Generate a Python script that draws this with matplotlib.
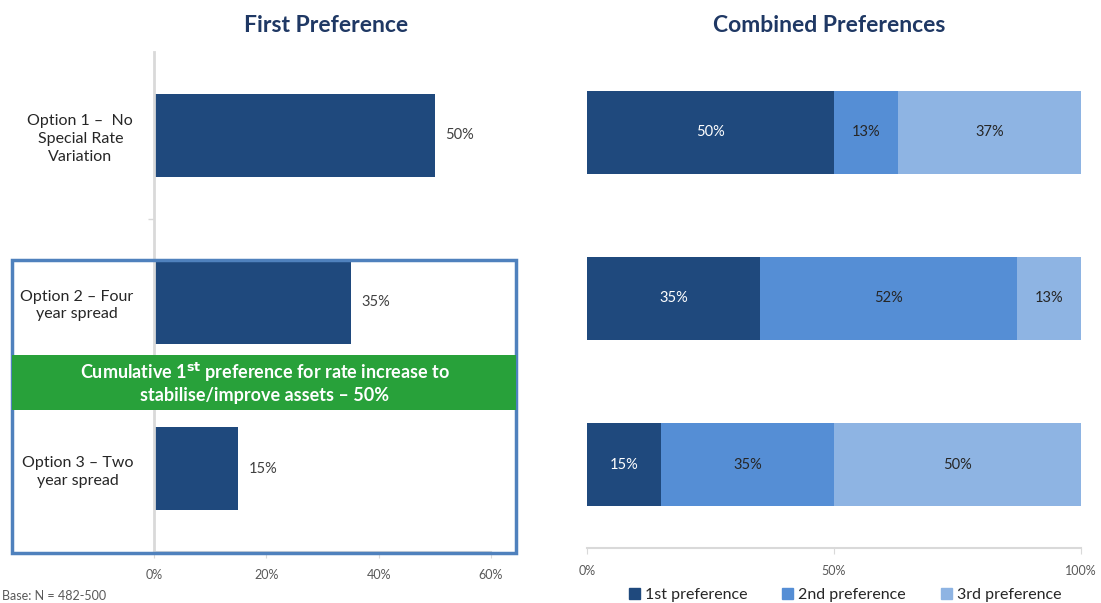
import matplotlib
matplotlib.use('Agg')

import matplotlib.pyplot as plt
from matplotlib.patches import Rectangle, Patch

plt.rcParams['font.family'] = ['Lato', 'DejaVu Sans']

# survey results, in percent
options = ["Option 1 \u2013  No\nSpecial Rate\nVariation",
           "Option 2 \u2013 Four\nyear spread",
           "Option 3 \u2013 Two\nyear spread"]
first_pref = [50, 35, 15]
second_pref = [13, 52, 35]
third_pref = [37, 13, 50]
pref_names = ["1st preference", "2nd preference", "3rd preference"]
left_ticks = [0, 20, 40, 60]
right_ticks = [0, 50, 100]

navy = '#1f497d'
mid_blue = '#558ed5'
light_blue = '#8eb4e3'
axis_grey = '#d9d9d9'
text_grey = '#595959'
title_col = '#1f3864'

fig = plt.figure(figsize=(11.01, 6.03), dpi=100)
W, H = 1101.0, 603.0

def fx(px):
    return px / W

def fy(py):
    return 1 - py / H

ypos = list(range(len(options)))

# left panel: first preference
ax1 = fig.add_axes([fx(154), fy(552), fx(491 - 154), (552 - 52) / H])
ax1.barh(ypos, first_pref, height=0.5, color=navy, zorder=2)
for y, v in zip(ypos, first_pref):
    ax1.text(v + 1.9, y, f"{v}%", va='center', ha='left', fontsize=10.5, color='#404040')
ax1.set_xlim(0, 60)
ax1.set_ylim(2.5, -0.5)
ax1.set_xticks(left_ticks)
ax1.set_xticklabels([f"{t}%" for t in left_ticks], fontsize=9, color=text_grey)
ax1.set_yticks(ypos)
ax1.set_yticklabels(options, fontsize=11.5, color='#262626', multialignment='center',
                    linespacing=1.35)
ax1.set_yticks([0.5, 1.5], minor=True)
ax1.tick_params(axis='y', which='major', length=0, pad=15)
ax1.tick_params(axis='y', which='minor', length=4, color=axis_grey, width=1)
ax1.tick_params(axis='x', length=4, color=axis_grey, pad=8)
for s in ['top', 'right']:
    ax1.spines[s].set_visible(False)
ax1.spines['left'].set_color(axis_grey)
ax1.spines['left'].set_linewidth(2)
ax1.spines['bottom'].set_color(axis_grey)
ax1.spines['bottom'].set_linewidth(1.5)

# right panel: combined preferences, stacked to 100%
ax2 = fig.add_axes([fx(587), fy(548), fx(1081 - 587), (548 - 49) / H])
left = [0] * len(options)
for vals, col, name, tcol in zip([first_pref, second_pref, third_pref],
                                 [navy, mid_blue, light_blue], pref_names,
                                 ['white', '#262626', '#262626']):
    ax2.barh(ypos, vals, left=left, height=0.5, color=col, label=name, zorder=2)
    for y, l, v in zip(ypos, left, vals):
        ax2.text(l + v / 2, y, f"{v}%", ha='center', va='center', fontsize=10.5, color=tcol)
    left = [a + b for a, b in zip(left, vals)]
ax2.set_xlim(0, 100)
ax2.set_ylim(2.5, -0.5)
ax2.set_xticks(right_ticks)
ax2.set_xticklabels([f"{t}%" for t in right_ticks], fontsize=9, color=text_grey)
ax2.set_yticks([])
ax2.tick_params(axis='x', length=4, color=axis_grey, pad=8)
for s in ['top', 'right', 'left']:
    ax2.spines[s].set_visible(False)
ax2.spines['bottom'].set_color(axis_grey)
ax2.spines['bottom'].set_linewidth(1.5)

fig.text(fx(326), fy(25), "First Preference", ha='center', va='center',
         fontsize=16.5, fontweight='bold', color=title_col)
fig.text(fx(829), fy(25), "Combined Preferences", ha='center', va='center',
         fontsize=16.5, fontweight='bold', color=title_col)

# highlight box around options 2 and 3
fig.add_artist(Rectangle((fx(12), fy(553)), fx(516 - 12), (553 - 260) / H,
                         transform=fig.transFigure, fill=False,
                         edgecolor='#4f81bd', linewidth=2.5, zorder=3))
fig.add_artist(Rectangle((fx(12), fy(410)), fx(516 - 12), (410 - 355) / H,
                         transform=fig.transFigure, facecolor='#28a13a',
                         edgecolor='none', zorder=4))
fig.text(fx(265), fy(382.5),
         "Cumulative 1$^{\\mathbf{st}}$ preference for rate increase to\nstabilise/improve assets \u2013 50%",
         ha='center', va='center', fontsize=13, fontweight='bold', color='white',
         linespacing=1.15, zorder=5)

handles = [Patch(color=c) for c in [navy, mid_blue, light_blue]]
fig.legend(handles, pref_names, loc='center', bbox_to_anchor=(fx(845), fy(595)),
           ncol=3, frameon=False, fontsize=11.5, handlelength=0.7, handleheight=0.7,
           handletextpad=0.3, columnspacing=2.2, labelcolor='#262626')

fig.text(fx(2), fy(590), "Base: N = 482-500", ha='left', va='top',
         fontsize=9, color=text_grey)

fig.savefig('out.png', dpi=100)
